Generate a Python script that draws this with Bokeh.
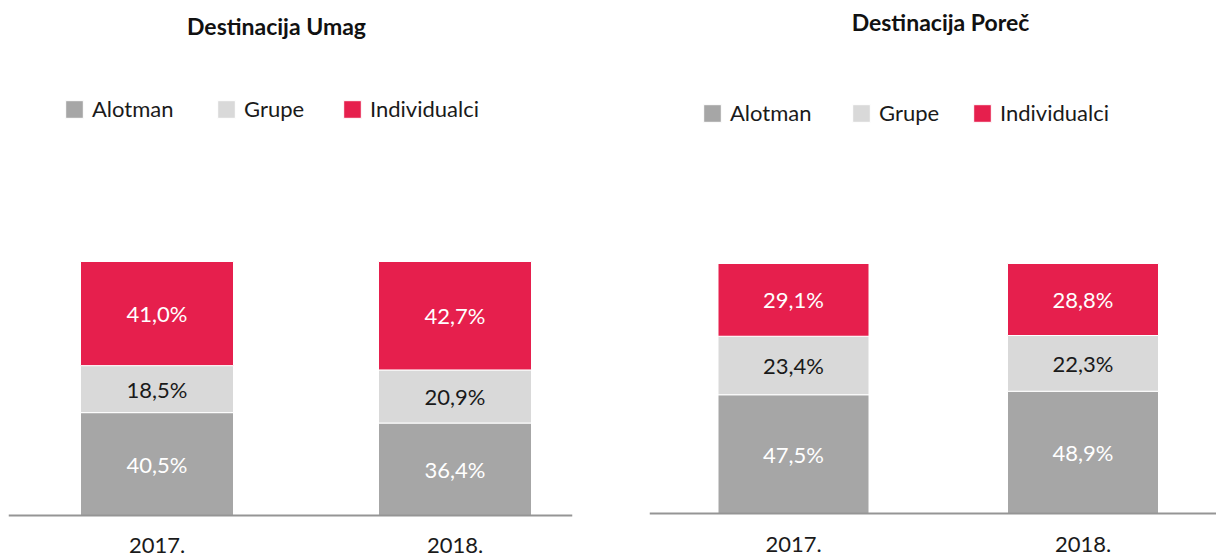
from bokeh.plotting import figure
from bokeh.models import ColumnDataSource, Range1d, FixedTicker, Label, Legend, LegendItem
from bokeh.layouts import row
from bokeh.embed import file_html
from bokeh.resources import INLINE
from bokeh.core.properties import value

# ---------------- data ----------------
years = ["2017.", "2018."]
series = ["Alotman", "Grupe", "Individualci"]

umag_alotman = [40.5, 36.4]
umag_grupe = [18.5, 20.9]
umag_individualci = [41.0, 42.7]

porec_alotman = [47.5, 48.9]
porec_grupe = [23.4, 22.3]
porec_individualci = [29.1, 28.8]

titles = ["Destinacija Umag", "Destinacija Poreč"]

# ---------------- styles ----------------
FONT = "Lato"
fill_colors = ["#A6A6A6", "#D9D9D9", "#E61F4D"]
value_text_colors = ["#FFFFFF", "#1A1A1A", "#FFFFFF"]

FIG_W = 608
FIG_H = 560


def fmt(v):
    return f"{v:.1f}".replace(".", ",") + "%"


def build(title, alot, grup, indiv, L):
    xpos = list(range(len(years)))
    ppu = L["ppu"]        # px per x unit
    ypu = L["ypu"]        # px per y unit
    fw = FIG_W - L["mbl"] - L["mbr"]
    fh = FIG_H
    x0 = -L["first_center"] / ppu
    x1 = x0 + fw / ppu
    y0 = -(fh - L["zero_y"]) / ypu
    y1 = y0 + fh / ypu

    p = figure(width=FIG_W, height=FIG_H, x_range=Range1d(x0, x1), y_range=Range1d(y0, y1),
               y_axis_type=None, toolbar_location=None, output_backend="svg",
               min_border_left=L["mbl"], min_border_right=L["mbr"],
               min_border_top=0, min_border_bottom=0,
               outline_line_color=None, background_fill_color="white",
               border_fill_color="white")
    p.xgrid.visible = False
    p.ygrid.visible = False

    src = ColumnDataSource(dict(x=xpos, Alotman=alot, Grupe=grup, Individualci=indiv))
    rs = p.vbar_stack(series, x="x", width=L["bw"], source=src,
                      fill_color=fill_colors, line_color="white", line_width=1)

    # value labels
    lx, ly, lt, lc = [], [], [], []
    for i in xpos:
        base = 0.0
        for s, vals, tc in zip(series, [alot, grup, indiv], value_text_colors):
            v = vals[i]
            lx.append(i)
            ly.append(base + v / 2)
            lt.append(fmt(v))
            lc.append(tc)
            base += v
    lsrc = ColumnDataSource(dict(x=lx, y=ly, text=lt, color=lc))
    p.text(x="x", y="y", text="text", source=lsrc, text_color="color",
           text_align="center", text_baseline="middle",
           text_font=value(FONT), text_font_size="22px")

    ax = p.xaxis[0]
    ax.fixed_location = 0
    ax.ticker = FixedTicker(ticks=xpos)
    ax.major_label_overrides = {i: y for i, y in zip(xpos, years)}
    ax.axis_line_color = "#959595"
    ax.axis_line_width = 2
    ax.major_tick_line_color = None
    ax.minor_tick_line_color = None
    ax.major_label_text_font = FONT
    ax.major_label_text_font_size = "22px"
    ax.major_label_text_color = "#1A1A1A"
    ax.major_label_standoff = L["standoff"]

    p.add_layout(Label(x=L["title_x"] - L["mbl"], y=fh - L["title_base"], x_units="screen", y_units="screen",
                       text=title, text_font=FONT, text_font_style="bold", text_font_size="23px",
                       text_color="#111111", text_align="center", text_baseline="alphabetic"))

    for r, name, lxp in zip(rs, series, L["legend_x"]):
        leg = Legend(items=[LegendItem(label=name, renderers=[r])],
                     location=(lxp - L["mbl"], fh - (L["legend_top"] + L["legend_h"])),
                     orientation="horizontal", padding=0, margin=0, spacing=0,
                     border_line_color=None, background_fill_alpha=0,
                     glyph_width=22, glyph_height=22, label_standoff=7,
                     label_height=22,
                     label_text_font=FONT, label_text_font_size="22px",
                     label_text_color="#1A1A1A")
        p.add_layout(leg)
    return p


# page-pixel layout (figure origin = page origin)
L_umag = dict(ppu=298, ypu=2.54, first_center=148.5, zero_y=515,
              mbl=8, mbr=36, bw=153 / 298, title_x=276, title_base=25, standoff=16,
              legend_x=[63, 215, 341], legend_top=101, legend_h=21)
L_porec = dict(ppu=289.5, ypu=2.5, first_center=144, zero_y=513,
               mbl=41, mbr=0, bw=151 / 289.5, title_x=332, title_base=21, standoff=17,
               legend_x=[93, 242, 363], legend_top=105, legend_h=21)

p1 = build(titles[0], umag_alotman, umag_grupe, umag_individualci, L_umag)
p2 = build(titles[1], porec_alotman, porec_grupe, porec_individualci, L_porec)

layout = row(p1, p2, spacing=0)
open("out.html", "w").write(file_html(layout, INLINE))
